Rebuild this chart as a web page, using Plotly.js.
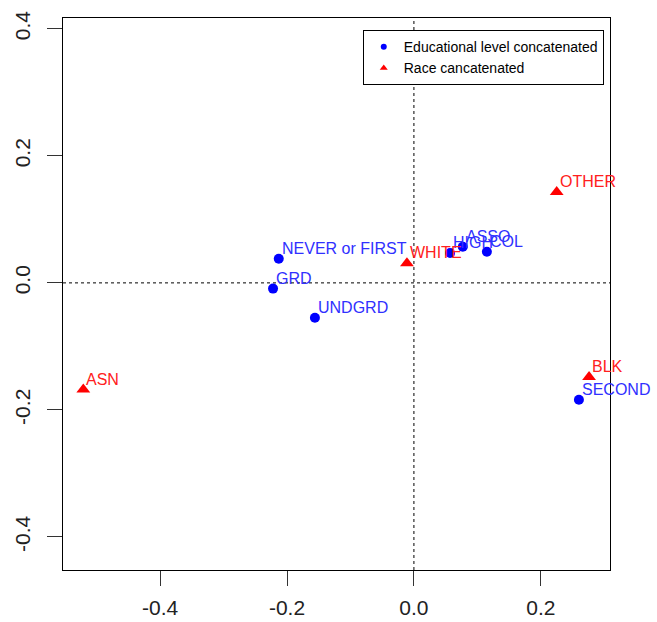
<!DOCTYPE html>
<html>
<head>
<meta charset="utf-8">
<script src="https://cdn.plot.ly/plotly-3.0.1.min.js"></script>
<style>html,body{margin:0;padding:0;background:#fff;}#chart{width:657px;height:622px;}</style>
</head>
<body>
<div id="chart"></div>
<script>
// Data
var eduLabels = ["NEVER or FIRST", "GRD", "UNDGRD", "HIGH", "ASSO", "COL", "SECOND"];
var eduX = [-0.213, -0.222, -0.156, 0.057, 0.077, 0.115, 0.260];
var eduY = [0.038, -0.009, -0.055, 0.047, 0.057, 0.049, -0.184];
var raceLabels = ["ASN", "WHITE", "OTHER", "BLK"];
var raceX = [-0.521, -0.011, 0.225, 0.276];
var raceY = [-0.168, 0.031, 0.143, -0.148];
var seriesNames = ["Educational level concatenated", "Race cancatenated"];
var tickVals = [-0.4, -0.2, 0.0, 0.2, 0.4];
var tickText = ["-0.4", "-0.2", "0.0", "0.2", "0.4"];
var refX = 0, refY = 0;

var font = "Liberation Sans, Arial, sans-serif";
var eduColor = "#0000ff", eduText = "#3030ff";
var raceColor = "#ff0000", raceText = "#ff2020";

var traces = [
  {x: eduX, y: eduY, mode: "markers", type: "scatter", name: seriesNames[0],
   marker: {symbol: "circle", size: 10, color: eduColor}, showlegend: false, cliponaxis: false},
  {x: raceX, y: raceY, mode: "markers", type: "scatter", name: seriesNames[1],
   marker: {symbol: "triangle-up", size: 12, color: raceColor}, showlegend: false, cliponaxis: false},
  {x: [null], y: [null], mode: "markers", type: "scatter", name: seriesNames[0],
   marker: {symbol: "circle", size: 6, color: eduColor}},
  {x: [null], y: [null], mode: "markers", type: "scatter", name: seriesNames[1],
   marker: {symbol: "triangle-up", size: 7, color: raceColor}}
];

var annotations = [];
function addLabels(xs, ys, labels, color) {
  for (var i = 0; i < labels.length; i++) {
    annotations.push({x: xs[i], y: ys[i], xref: "x", yref: "y", text: labels[i],
      showarrow: false, xanchor: "left", yanchor: "bottom", xshift: 1, yshift: 0,
      font: {family: font, size: 16, color: color}});
  }
}
addLabels(eduX, eduY, eduLabels, eduText);
addLabels(raceX, raceY, raceLabels, raceText);

var axisCommon = {
  showgrid: false, zeroline: false, showline: true, mirror: true,
  linecolor: "#000", linewidth: 1, ticks: "outside", ticklen: 15, tickwidth: 1,
  tickcolor: "#333", tickmode: "array", tickvals: tickVals, ticktext: tickText,
  tickfont: {family: font, size: 21, color: "#222"}
};

var layout = {
  width: 657, height: 622,
  margin: {l: 63, r: 47, t: 18, b: 52},
  paper_bgcolor: "#fff", plot_bgcolor: "#fff",
  xaxis: Object.assign({}, axisCommon, {range: [-0.553, 0.309], ticklabelstandoff: 4}),
  yaxis: Object.assign({}, axisCommon, {range: [-0.452, 0.417], tickangle: -90, ticklabelstandoff: 9}),
  showlegend: true,
  legend: {x: 0.548, y: 0.978, xanchor: "left", yanchor: "top",
    bordercolor: "#000", borderwidth: 1, bgcolor: "#fff",
    font: {family: font, size: 14, color: "#000"}, itemwidth: 30, tracegroupgap: 0},
  annotations: annotations,
  shapes: [
    {type: "line", xref: "x", yref: "paper", x0: refX, x1: refX, y0: 0, y1: 1,
     line: {color: "#000", width: 1, dash: "dot"}, layer: "below"},
    {type: "line", xref: "paper", yref: "y", x0: 0, x1: 1, y0: refY, y1: refY,
     line: {color: "#000", width: 1, dash: "dot"}, layer: "below"}
  ]
};

Plotly.newPlot("chart", traces, layout, {displayModeBar: false, staticPlot: true});
</script>
</body>
</html>
